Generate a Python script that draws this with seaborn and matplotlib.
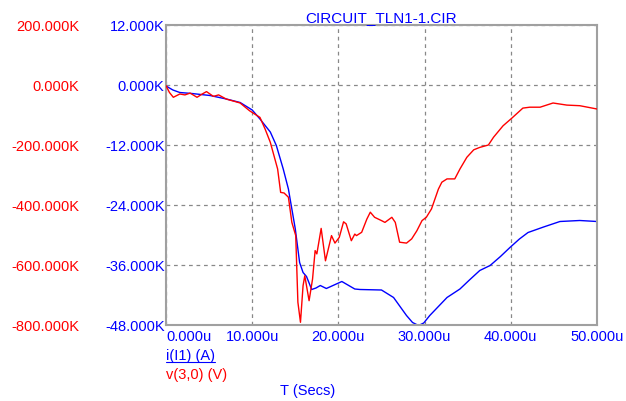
import matplotlib
matplotlib.use("Agg")
import matplotlib.pyplot as plt
import seaborn as sns
from matplotlib.lines import Line2D

# time in microseconds
t_i = [0, 0.8, 1.6, 3.0, 5.1, 7.0, 8.6, 10.0, 10.9, 12.1, 12.8, 13.6, 14.2, 15.0,
       15.5, 15.9, 16.3, 16.9, 17.4, 17.9, 18.6, 19.5, 20.4, 21.0, 21.9, 22.5,
       25.0, 26.4, 27.9, 28.6, 29.3, 29.9, 30.6, 31.6, 32.6, 34.1, 35.2, 36.4,
       37.6, 38.8, 39.9, 41.0, 42.0, 43.8, 45.7, 48.0, 50.0]
# i(I1) in kA
i_vals = [-0.2, -1.0, -1.5, -1.7, -2.1, -2.8, -3.5, -5.0, -6.8, -9.4, -12.1, -16.8,
          -20.8, -28.8, -35.5, -37.5, -38.3, -40.9, -40.6, -40.1, -40.7, -40.0,
          -39.3, -39.9, -40.8, -40.9, -41.0, -42.5, -46.1, -47.5, -48.1, -47.6,
          -46.1, -44.3, -42.5, -40.8, -39.0, -37.1, -36.1, -34.3, -32.5, -30.8,
          -29.5, -28.4, -27.3, -27.1, -27.3]

t_v = [0, 0.4, 0.85, 1.6, 2.2, 2.8, 3.6, 4.2, 4.7, 5.5, 6.1, 7.0, 8.0, 8.6, 9.7,
       10.9, 11.5, 12.1, 12.95, 13.3, 13.7, 14.2, 14.6, 15.05, 15.3, 15.6, 15.9,
       16.1, 16.6, 17.0, 17.3, 17.5, 18.0, 18.5, 19.2, 19.6, 20.1, 20.6, 20.9,
       21.5, 21.9, 22.1, 22.7, 23.3, 23.7, 24.2, 25.0, 25.4, 26.2, 26.6, 27.1,
       27.9, 28.5, 29.1, 29.7, 30.2, 30.8, 31.6, 32.0, 32.6, 33.5, 34.1, 34.9,
       35.7, 36.4, 37.4, 38.0, 39.1, 40.1, 41.4, 42.2, 43.4, 44.9, 46.5, 48.0, 50.0]
# v(3,0) in kV
v_vals = [-2, -25, -41, -30, -33, -27, -41, -30, -22, -38, -33, -47, -55, -60, -86,
          -108, -147, -191, -280, -358, -360, -374, -458, -502, -724, -791, -669,
          -636, -719, -647, -552, -563, -478, -586, -502, -527, -508, -456, -463,
          -519, -497, -502, -491, -447, -424, -441, -452, -458, -441, -458, -524,
          -527, -513, -486, -452, -441, -413, -347, -324, -313, -313, -280, -241,
          -216, -208, -200, -174, -136, -111, -77, -74, -74, -60, -67, -69, -80]

x_ticks = [0, 10, 20, 30, 40, 50]
i_ticks = [12, 0, -12, -24, -36, -48]
v_ticks = [200, 0, -200, -400, -600, -800]

BLUE = "#0000ff"
RED = "#ff0000"

sns.set_style("white")
plt.rcParams['font.family'] = ['Liberation Sans', 'DejaVu Sans']
plt.rcParams['font.size'] = 10.5

fig = plt.figure(figsize=(6.26, 4.02), dpi=100)
ax = fig.add_axes([166 / 626, 1 - 326 / 402, 431 / 626, 300 / 402])
ax2 = ax.twinx()

sns.lineplot(x=t_i, y=i_vals, ax=ax, color=BLUE, linewidth=1, estimator=None, sort=False)
sns.lineplot(x=t_v, y=v_vals, ax=ax2, color=RED, linewidth=1, estimator=None, sort=False)

ax.set_xlim(0, 50)
ax.set_ylim(-48, 12)
ax2.set_ylim(-800, 200)

ax.set_xticks(x_ticks)
ax.set_xticklabels([f"{t:.3f}u" for t in x_ticks], color=BLUE)
ax.get_xticklabels()[0].set_horizontalalignment("left")
ax.set_yticks(i_ticks)
ax.set_yticklabels([f"{v:.3f}K" for v in i_ticks], color=BLUE)
ax.tick_params(axis="y", length=0, pad=1)
ax.tick_params(axis="x", length=0, pad=3)

ax2.yaxis.tick_left()
ax2.set_yticks(v_ticks)
ax2.set_yticklabels([f"{v:.3f}K" for v in v_ticks], color=RED)
ax2.tick_params(length=0, pad=62.5)

ax.grid(True, color="#888888", linestyle=(0, (3, 3)), linewidth=0.9)
for s in ax.spines.values():
    s.set_color("#a0a0a0")
    s.set_linewidth(1.5)
for s in ax2.spines.values():
    s.set_visible(False)

ax.set_title("CIRCUIT_TLN1-1.CIR", color=BLUE, fontsize=11, pad=3)

lbl = fig.text(166 / 626, 1 - 356 / 402, "i(I1) (A)", color=BLUE, va="center", ha="left")
fig.text(166 / 626, 1 - 375 / 402, "v(3,0) (V)", color=RED, va="center", ha="left")
fig.text(308 / 626, 1 - 391 / 402, "T (Secs)", color=BLUE, va="center", ha="center")

fig.canvas.draw()
bb = lbl.get_window_extent().transformed(fig.transFigure.inverted())
fig.add_artist(Line2D([bb.x0, bb.x1], [bb.y0, bb.y0], color=BLUE, linewidth=0.8,
                      transform=fig.transFigure))

fig.savefig("out.png", dpi=100)
